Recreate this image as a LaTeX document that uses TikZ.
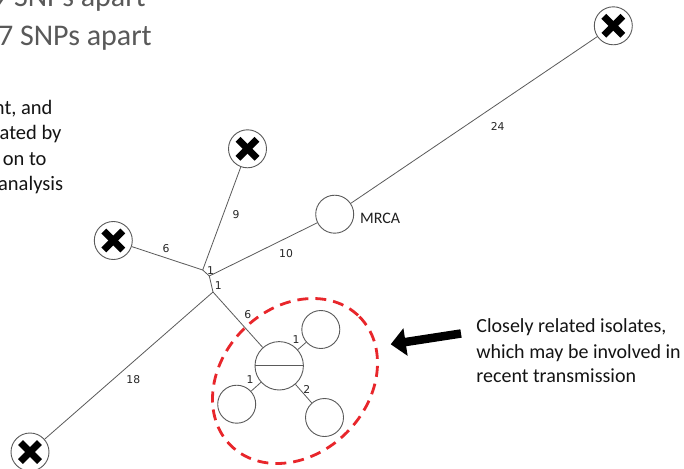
\documentclass[tikz,border=0pt]{standalone}
\usepackage{fontspec}
\setmainfont{Carlito}
\newfontfamily\numfont{DejaVu Sans}
\usetikzlibrary{arrows.meta}
\definecolor{lg}{HTML}{5A5A5A}
\definecolor{numc}{HTML}{262626}
\definecolor{headc}{HTML}{595959}
\definecolor{dashred}{HTML}{E8262B}
\begin{document}
\begin{tikzpicture}[x=1pt,y=-1pt,
  nd/.style={circle,draw=lg,line width=0.9pt,minimum size=38pt,inner sep=0pt,fill=white},
  xnd/.style={nd,path picture={
    \draw[line width=6.8pt,black] ([shift={(-9.5pt,-9.5pt)}]path picture bounding box.center) -- ([shift={(9.5pt,9.5pt)}]path picture bounding box.center);
    \draw[line width=6.8pt,black] ([shift={(-9.5pt,9.5pt)}]path picture bounding box.center) -- ([shift={(9.5pt,-9.5pt)}]path picture bounding box.center);}},
  link/.style={draw=lg,line width=0.8pt},
  num/.style={font=\numfont\fontsize{10.8}{13}\selectfont,text=numc,inner sep=0pt},
  txt/.style={font=\fontsize{20.5}{25}\selectfont,text=black!92,inner sep=0pt},
  ann/.style={font=\fontsize{20}{25}\selectfont,text=black!92,inner sep=0pt},
  head/.style={font=\fontsize{30}{36}\selectfont,text=headc,inner sep=0pt},
  redline/.style={draw=dashred,line width=2.8pt,dash pattern=on 11pt off 7pt}]
\useasboundingbox[fill=white] (0,0) rectangle (684,468);

% headings and side text (cut by the page edge)
\node[head,anchor=base east] (h1) at (146,7) {9 SNPs apart};
\node[head,anchor=base east] (h2) at (152,45.7) {7 SNPs apart};
\node[txt,anchor=base east] (l1) at (52.7,114) {nt, and};
\node[txt,anchor=base east] (l2) at (61.7,139.3) {ated by};
\node[txt,anchor=base east] (l3) at (46.7,165.7) {on to};
\node[txt,anchor=base east] (l4) at (63.3,190.7) {analysis};

% nodes
\node[xnd] (trx) at (613.3,25.8) {};
\node[nd] (mrca) at (334.7,214.2) {};
\node[xnd] (topx) at (247.5,148.8) {};
\node[xnd] (leftx) at (113.3,240.5) {};
\node[xnd] (blx) at (30,452) {};
\coordinate (A) at (202.7,270);
\coordinate (A2) at (209.3,276);
\coordinate (B) at (213,292);
\node[nd,minimum size=48.4pt] (cen) at (279.2,365.8) {};
\node[nd] (c1) at (320.8,329.5) {};
\node[nd] (c2) at (236.7,404.2) {};
\node[nd] (c3) at (324.5,417.5) {};

\node[anchor=base west,inner sep=0pt,font=\fontsize{16}{19}\selectfont,text=black!88] (mrcal) at (360,223) {MRCA};

% connectors
\draw[link] (trx) -- (mrca);
\draw[link] (mrca) -- (A2);
\draw[link] (topx) -- (A);
\draw[link] (leftx) -- (A);
\draw[link] (A) -- (A2);
\draw[link] (A2) -- (B);
\draw[link] (B) -- (blx);
\draw[link] (B) -- (cen);
\draw[link] (cen) -- (c1);
\draw[link] (cen) -- (c2);
\draw[link] (cen) -- (c3);
\draw[link] (cen.west) -- (cen.east);

% edge labels
\node[num] (n24) at (497.7,126) {24};
\node[num] (n10) at (286,253.3) {10};
\node[num] (n9) at (236,214.3) {9};
\node[num] (n6a) at (166,248.3) {6};
\node[num] (n1a) at (210.5,270.5) {1};
\node[num] (n1b) at (218.3,285.7) {1};
\node[num] (n18) at (133.3,379.3) {18};
\node[num] (n6b) at (247.7,315) {6};
\node[num] (n1c) at (296,340) {1};
\node[num] (n1d) at (250,379.3) {1};
\node[num] (n2) at (306.7,389) {2};

% red dashed cluster outline
\draw[redline,rotate around={45:(295,381)}] (295,381) ellipse [x radius=91, y radius=73];

% arrow
\coordinate (at) at (461,333.5);
\coordinate (ah) at (390.7,344.3);
\draw[line width=8.5pt,black,-{Triangle[length=15pt,width=27pt]}] (at) -- (ah);

% annotation
\node[ann,anchor=base west] (t1) at (476.2,332.7) {Closely related isolates,};
\node[ann,anchor=base west] (t2) at (476.2,358) {which may be involved in};
\node[ann,anchor=base west] (t3) at (476.2,382.5) {recent transmission};
\end{tikzpicture}
\end{document}
